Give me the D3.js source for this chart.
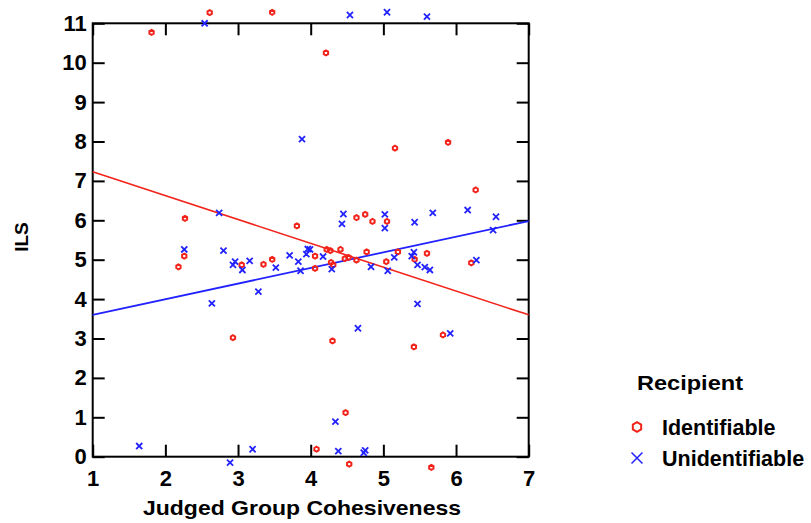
<!DOCTYPE html>
<html>
<head>
<meta charset="utf-8">
<script src="https://cdn.jsdelivr.net/npm/d3@7"></script>
<style>
  body { margin: 0; background: #fff; }
  svg text { font-family: "Liberation Sans", Arial, sans-serif; font-weight: bold; fill: #000; }
</style>
</head>
<body>
<svg id="chart" width="811" height="523"></svg>
<script>
//======= data =======//
let identX = [1.81, 2.61, 3.47, 4.21, 5.16, 5.89, 2.27, 3.81, 2.26, 2.18, 3.05, 3.35, 3.47, 6.27,
  4.63, 4.75, 4.85, 5.05, 6.21, 5.43, 5.60, 5.20, 5.04, 4.77, 4.63, 4.52, 4.47, 4.41, 4.22, 4.27,
  4.31, 4.28, 4.06, 4.06, 2.93, 4.30, 5.42, 5.82, 4.48, 4.08, 4.53, 5.66];
let identY = [10.77, 11.27, 11.28, 10.25, 7.83, 7.98, 6.05, 5.86, 5.09, 4.82, 4.87, 4.88, 5.01, 6.77,
  6.07, 6.15, 5.97, 5.97, 4.92, 5.01, 5.16, 5.20, 4.95, 5.20, 4.99, 5.06, 5.03, 5.26, 5.26, 5.23,
  4.87, 4.93, 5.09, 4.78, 3.02, 2.94, 2.79, 3.09, 1.12, 0.19, -0.19, -0.27];

let unidentX = [2.54, 3.88, 4.54, 5.05, 5.60, 2.74, 2.26, 2.80, 2.93, 2.96, 3.06, 3.16, 3.52, 3.71,
  3.83, 3.86, 3.94, 3.96, 3.28, 2.64, 4.45, 4.43, 5.02, 5.02, 5.43, 5.68, 6.16, 6.55, 6.51, 6.28,
  5.47, 5.42, 5.39, 5.47, 5.57, 5.64, 5.15, 5.06, 4.83, 4.29, 3.99, 4.17, 4.65, 5.92, 4.34, 4.38,
  4.73, 4.75, 1.64, 2.89, 3.20];
let unidentY = [11.0, 8.06, 11.21, 11.28, 11.17, 6.19, 5.26, 5.23, 4.87, 4.95, 4.74, 4.97, 4.80, 5.11,
  4.95, 4.72, 5.14, 5.27, 4.19, 3.89, 6.16, 5.91, 6.15, 5.80, 5.95, 6.19, 6.26, 6.09, 5.75, 4.99,
  3.88, 5.19, 5.09, 4.87, 4.81, 4.74, 5.06, 4.72, 4.82, 4.76, 5.26, 5.08, 3.26, 3.13, 0.89, 0.14,
  0.10, 0.16, 0.27, -0.15, 0.19];

// fitted lines, value at x = 1 and x = 7
let fitX = [1, 7];
let identFit = [7.23, 3.60];
let unidentFit = [3.60, 5.98];

let xTicks = [1, 2, 3, 4, 5, 6, 7];
let yTicks = [0, 1, 2, 3, 4, 5, 6, 7, 8, 9, 10, 11];
let groups = ['Identifiable', 'Unidentifiable'];

let red = '#f2231a';
let blue = '#2222ff';

//======= start chart =======//
let margin = { top: 23.3, right: 282.3, bottom: 66.3, left: 92.7 };
let width = 811 - margin.left - margin.right;
let height = 523 - margin.top - margin.bottom;

let svg = d3.select('#chart');
let g = svg.append('g')
  .attr('transform', 'translate(' + margin.left + ',' + margin.top + ')');

let x = d3.scaleLinear().domain([1, 7]).range([0, width]);
let y = d3.scaleLinear().domain([0, 11]).range([height, 0]);

// hexagon symbol for the identifiable group
let hexagon = {
  draw: function (context, size) {
    let r = Math.sqrt(size / 2.598);
    for (let i = 0; i < 6; i++) {
      let a = Math.PI / 6 + i * Math.PI / 3;
      if (i === 0) context.moveTo(r * Math.cos(a), r * Math.sin(a));
      else context.lineTo(r * Math.cos(a), r * Math.sin(a));
    }
    context.closePath();
  }
};

function styleAxis(sel) {
  sel.select('.domain').remove();
  sel.selectAll('.tick line').attr('stroke', '#000').attr('stroke-width', 2);
  sel.selectAll('.tick text').style('font-size', '22px');
}

g.append('g')
  .call(d3.axisLeft(y).tickValues(yTicks).tickFormat(d3.format('d'))
    .tickSizeInner(-12).tickSizeOuter(0).tickPadding(6))
  .call(styleAxis);

g.append('g')
  .attr('transform', 'translate(0,' + height + ')')
  .call(d3.axisBottom(x).tickValues(xTicks).tickFormat(d3.format('d'))
    .tickSizeInner(-12).tickSizeOuter(0).tickPadding(14))
  .call(styleAxis);

g.append('g')
  .attr('transform', 'translate(' + width + ',0)')
  .call(d3.axisRight(y).tickValues(yTicks).tickSizeInner(-12).tickSizeOuter(0).tickFormat(''))
  .call(styleAxis);

g.append('g')
  .call(d3.axisTop(x).tickValues(xTicks).tickSizeInner(-12).tickSizeOuter(0).tickFormat(''))
  .call(styleAxis);

g.append('rect')
  .attr('width', width)
  .attr('height', height)
  .attr('fill', 'none')
  .attr('stroke', '#000')
  .attr('stroke-width', 2);

// regression lines
let line = d3.line()
  .x(function (d) { return x(d[0]); })
  .y(function (d) { return y(d[1]); });

g.append('path')
  .datum(d3.zip(fitX, identFit))
  .attr('fill', 'none')
  .attr('stroke', red)
  .attr('stroke-width', 1.6)
  .attr('d', line);

g.append('path')
  .datum(d3.zip(fitX, unidentFit))
  .attr('fill', 'none')
  .attr('stroke', blue)
  .attr('stroke-width', 1.8)
  .attr('d', line);

// points
g.append('g')
  .selectAll('path')
  .data(d3.zip(identX, identY))
  .enter()
  .append('path')
  .attr('transform', function (d) { return 'translate(' + x(d[0]) + ',' + y(d[1]) + ')'; })
  .attr('d', d3.symbol().type(hexagon).size(16))
  .attr('fill', 'none')
  .attr('stroke', red)
  .attr('stroke-width', 2);

g.append('g')
  .selectAll('path')
  .data(d3.zip(unidentX, unidentY))
  .enter()
  .append('path')
  .attr('transform', function (d) { return 'translate(' + x(d[0]) + ',' + y(d[1]) + ')'; })
  .attr('d', d3.symbol().type(d3.symbolTimes).size(26))
  .attr('fill', 'none')
  .attr('stroke', blue)
  .attr('stroke-width', 1.8);

// axis titles
svg.append('text')
  .attr('x', 302)
  .attr('y', 515)
  .attr('text-anchor', 'middle')
  .attr('textLength', 318)
  .attr('lengthAdjust', 'spacingAndGlyphs')
  .style('font-size', '21px')
  .text('Judged Group Cohesiveness');

svg.append('text')
  .attr('transform', 'translate(28,237) rotate(-90)')
  .attr('text-anchor', 'middle')
  .style('font-size', '19px')
  .text('ILS');
//======= end chart =======//

//======= start legend =======//
let legend = svg.append('g').attr('transform', 'translate(637,0)');

legend.append('text')
  .attr('x', 0)
  .attr('y', 390)
  .attr('textLength', 106)
  .attr('lengthAdjust', 'spacingAndGlyphs')
  .style('font-size', '21px')
  .text('Recipient');

let legendItem = legend.selectAll('.legend-item')
  .data(groups)
  .enter()
  .append('g')
  .attr('class', 'legend-item')
  .attr('transform', function (d, i) { return 'translate(0,' + (427 + i * 31) + ')'; });

legendItem.append('path')
  .attr('d', function (d, i) {
    return i === 0 ? d3.symbol().type(hexagon).size(60)() : d3.symbol().type(d3.symbolTimes).size(80)();
  })
  .attr('fill', 'none')
  .attr('stroke', function (d, i) { return i === 0 ? red : blue; })
  .attr('stroke-width', function (d, i) { return i === 0 ? 2 : 1.5; });

legendItem.append('text')
  .attr('x', 25)
  .attr('y', 8)
  .style('font-size', '21.5px')
  .text(function (d) { return d; });
//======= end legend =======//
</script>
</body>
</html>
